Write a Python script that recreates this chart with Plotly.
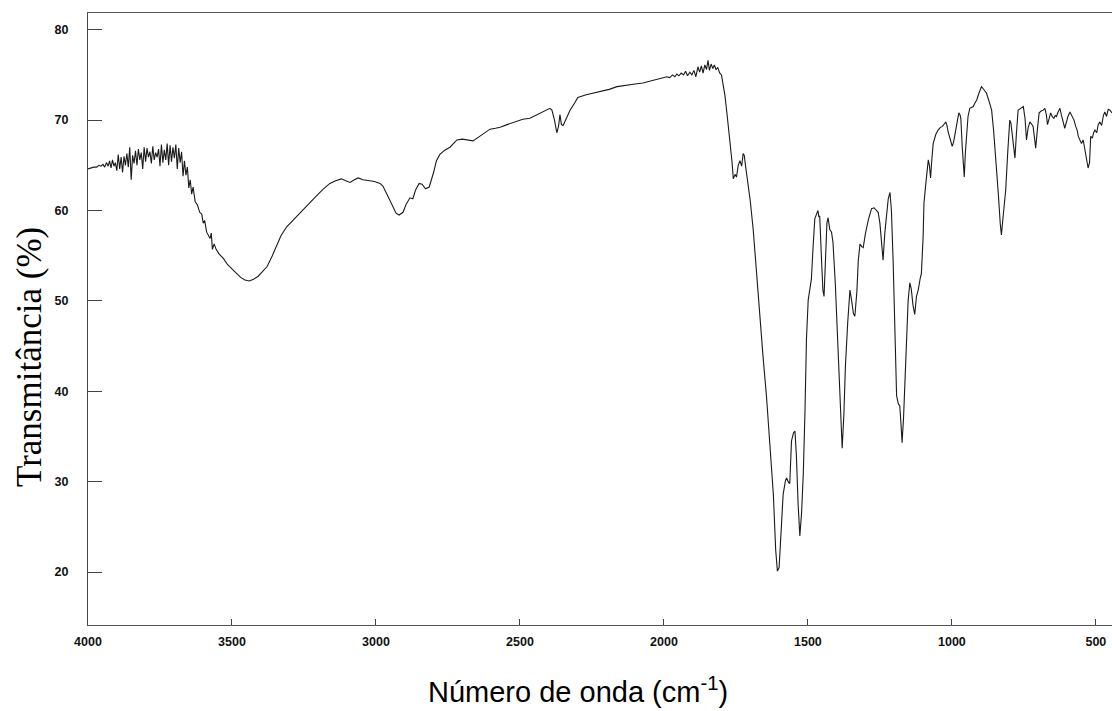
import plotly.graph_objects as go

# FTIR transmittance spectrum
wavenumber = [
    4000, 3990, 3980, 3970, 3962, 3955, 3948, 3942, 3936, 3930, 3925, 3920, 3915, 3910, 3905,
    3900, 3895, 3890, 3885, 3880, 3875, 3870, 3865, 3860, 3855, 3850, 3845, 3840, 3835, 3830,
    3825, 3820, 3815, 3810, 3805, 3800, 3795, 3790, 3785, 3780, 3775, 3770, 3765, 3760, 3755,
    3750, 3745, 3740, 3735, 3730, 3725, 3720, 3715, 3710, 3705, 3700, 3695, 3690, 3685, 3680,
    3675, 3670, 3665, 3660, 3655, 3650, 3645, 3640, 3635, 3628, 3620, 3612, 3605, 3600, 3595,
    3588, 3582, 3576, 3572, 3568, 3562, 3555, 3545, 3530, 3515, 3500, 3485, 3470, 3455, 3440,
    3425, 3410, 3395, 3378, 3360, 3345, 3330, 3310, 3288, 3260, 3235, 3210, 3185, 3160, 3140,
    3120, 3105, 3090, 3075, 3062, 3045, 3025, 3005, 2986, 2976, 2962, 2945, 2930, 2920, 2906,
    2895, 2882, 2872, 2862, 2850, 2840, 2828, 2815, 2800, 2790, 2778, 2760, 2743, 2730, 2719,
    2700, 2680, 2663, 2640, 2620, 2604, 2585, 2569, 2545, 2520, 2490, 2465, 2440, 2415, 2396,
    2389, 2380, 2372, 2366, 2361, 2356, 2350, 2340, 2326, 2310, 2299, 2270, 2240, 2212, 2190,
    2163, 2130, 2100, 2073, 2040, 2003, 1990, 1980, 1970, 1962, 1955, 1948, 1940, 1932, 1925,
    1918, 1910, 1903, 1896, 1889, 1882, 1876, 1870, 1864, 1858, 1852, 1847, 1842, 1836, 1830,
    1825, 1819, 1813, 1806, 1800, 1795, 1788, 1780, 1771, 1764, 1759, 1753, 1748, 1742, 1736,
    1730, 1725, 1721, 1716, 1711, 1707, 1700, 1690, 1680, 1667, 1655, 1644, 1632, 1620, 1612,
    1606, 1600, 1597, 1590, 1586, 1578, 1574, 1567, 1563, 1557, 1550, 1545, 1540, 1534, 1528,
    1522, 1516, 1510, 1505, 1499, 1493, 1488, 1482, 1476, 1470, 1465, 1462, 1459, 1454, 1448,
    1444, 1439, 1434, 1430, 1427, 1424, 1418, 1413, 1405, 1400, 1395, 1388, 1381, 1375, 1370,
    1362, 1354, 1348, 1342, 1337, 1330, 1325, 1319, 1313, 1308, 1300, 1290, 1279, 1270, 1262,
    1256, 1250, 1244, 1239, 1233, 1227, 1221, 1215, 1210, 1204, 1198, 1192, 1186, 1181, 1176,
    1173, 1168, 1163, 1158, 1152, 1146, 1141, 1135, 1129, 1123, 1117, 1110, 1106, 1100, 1097,
    1092, 1088, 1082, 1078, 1074, 1070, 1065, 1056, 1048, 1040, 1033, 1026, 1021, 1017, 1013,
    1005, 999, 994, 990, 983, 976, 972, 969, 964, 960, 957, 953, 949, 944, 938,
    932, 926, 920, 914, 906, 900, 897, 892, 886, 880, 872, 862, 855, 850, 845,
    838, 832, 828, 824, 819, 813, 806, 799, 795, 791, 786, 781, 776, 770, 761,
    752, 746, 741, 735, 729, 724, 718, 713, 709, 703, 697, 690, 683, 677, 672,
    668, 662, 657, 652, 646, 641, 637, 631, 625, 620, 614, 608, 603, 597, 590,
    583, 576, 570, 565, 561, 555, 550, 544, 538, 532, 527, 522, 518, 512, 508,
    503, 497, 492, 486, 480, 474, 469, 463, 457, 451, 444,
]

transmittance = [
    64.6, 64.7, 64.8, 64.8, 65.0, 64.9, 65.1, 64.8, 65.3, 64.9, 65.5, 64.7, 65.6, 64.9, 65.3,
    64.4, 66.2, 64.6, 65.9, 64.2, 66.0, 65.0, 66.3, 64.8, 67.0, 63.4, 66.1, 65.2, 66.6, 65.0,
    66.8, 65.6, 66.4, 64.6, 67.0, 65.4, 66.9, 65.9, 66.5, 65.2, 67.1, 65.6, 66.4, 65.9, 66.8,
    64.9, 67.3, 65.3, 66.7, 65.6, 67.4, 65.0, 67.2, 65.4, 67.0, 65.8, 67.3, 64.6, 66.9, 65.3,
    66.5, 63.8, 65.5, 63.9, 64.8, 62.5, 63.4, 61.8, 62.6, 61.0, 60.6, 59.8, 59.6, 58.6, 58.9,
    57.6, 57.3, 56.9, 57.5, 55.7, 56.3, 55.7, 55.2, 54.7, 54.0, 53.5, 53.0, 52.6, 52.3, 52.2,
    52.4, 52.7, 53.2, 53.8, 55.0, 56.2, 57.2, 58.2, 58.9, 59.8, 60.6, 61.5, 62.3, 63.0, 63.3,
    63.5, 63.3, 63.1, 63.4, 63.6, 63.4, 63.3, 63.2, 63.0, 62.7, 61.8, 60.6, 59.7, 59.5, 59.8,
    60.7, 61.4, 61.3, 62.3, 63.0, 62.9, 62.4, 62.6, 64.2, 65.5, 66.2, 66.7, 67.0, 67.5, 67.8,
    67.9, 67.8, 67.7, 68.2, 68.7, 69.0, 69.1, 69.2, 69.5, 69.8, 70.1, 70.2, 70.6, 71.0, 71.3,
    71.1, 70.0, 68.6, 69.3, 70.6, 69.5, 69.4, 70.2, 71.1, 71.9, 72.5, 72.8, 73.0, 73.2, 73.4,
    73.7, 73.9, 74.0, 74.1, 74.4, 74.7, 74.8, 74.7, 75.0, 74.8, 75.1, 74.9, 75.2, 75.0, 75.4,
    74.9, 75.3, 75.0, 75.5, 74.8, 75.9, 75.3, 76.0, 75.2, 76.1, 75.6, 76.6, 75.5, 76.2, 75.7,
    76.1, 75.6, 75.8, 75.2, 75.0, 74.0, 72.7, 70.4, 68.0, 65.5, 63.5, 64.0, 63.7, 65.0, 65.5,
    64.9, 66.3, 66.1, 64.8, 63.6, 62.5, 61.0, 57.9, 53.5, 47.7, 43.5, 39.5, 34.0, 28.6, 22.5,
    20.1, 20.5, 22.4, 26.5, 28.6, 30.1, 30.4, 29.9, 29.8, 34.5, 35.4, 35.6, 32.9, 27.5, 24.0,
    26.5, 30.9, 38.0, 45.8, 50.1, 51.5, 52.4, 56.0, 59.1, 59.6, 60.0, 59.3, 59.4, 55.5, 51.2,
    50.5, 54.5, 58.6, 59.2, 58.3, 57.9, 57.6, 56.5, 52.0, 48.0, 45.4, 39.0, 33.7, 37.5, 42.6,
    47.5, 51.2, 50.0, 48.6, 48.3, 51.0, 54.5, 56.3, 56.0, 55.9, 57.5, 59.0, 60.2, 60.3, 60.0,
    59.8, 58.6, 56.5, 54.5, 57.5, 59.8, 61.3, 62.0, 60.0, 54.3, 46.0, 39.5, 38.6, 38.4, 36.0,
    34.3, 37.0, 41.5, 45.4, 50.0, 52.0, 51.3, 49.5, 48.5, 50.5, 51.2, 52.5, 53.0, 57.0, 60.8,
    62.5, 64.1, 65.6, 65.0, 63.6, 65.5, 67.4, 68.4, 68.9, 69.2, 69.3, 69.6, 69.8, 69.4, 68.7,
    67.8, 67.1, 67.6, 68.3, 69.8, 70.8, 70.6, 70.2, 67.0, 64.0, 63.7, 66.5, 68.9, 70.4, 71.3,
    71.4, 71.5, 71.9, 72.2, 73.0, 73.6, 73.7, 73.5, 73.2, 73.0, 72.2, 71.1, 68.8, 66.8, 64.8,
    61.5, 58.5, 57.3, 58.7, 60.5, 62.3, 66.5, 70.0, 69.7, 68.5, 67.2, 65.8, 68.5, 71.1, 71.3,
    71.5, 70.2, 67.8, 69.2, 69.8, 69.6, 69.3, 68.0, 66.9, 69.0, 70.8, 71.0, 71.1, 71.3, 70.6,
    69.5, 70.2, 70.8, 70.4, 70.2, 70.5, 70.4, 70.9, 71.3, 70.6, 69.8, 69.1, 69.7, 70.4, 70.9,
    70.4, 70.0, 69.3, 68.9, 68.2, 67.8, 67.4, 67.8, 66.7, 66.0, 64.7, 65.3, 68.2, 68.0, 68.6,
    68.9, 68.6, 69.5, 69.8, 69.4, 70.5, 70.9, 70.4, 71.2, 71.1, 70.8,
]

x_ticks = [4000, 3500, 3000, 2500, 2000, 1500, 1000, 500]
y_ticks = [20, 30, 40, 50, 60, 70, 80]

fig = go.Figure()
fig.add_trace(go.Scatter(
    x=wavenumber, y=transmittance, mode="lines",
    line=dict(color="#1a1a1a", width=1.1),
    showlegend=False, hoverinfo="skip",
))

tick_font = dict(family="Liberation Sans, Arial, sans-serif", size=12.5, color="#111", weight="bold")

fig.update_layout(
    width=1112, height=711,
    margin=dict(l=88, r=0, t=13, b=86),
    paper_bgcolor="white", plot_bgcolor="white",
    xaxis=dict(
        range=[4000, 444], tickvals=x_ticks, ticktext=[str(v) for v in x_ticks],
        ticks="inside", ticklen=6, tickwidth=1, tickcolor="#444",
        showline=True, linecolor="#555", linewidth=1, mirror=True,
        showgrid=False, zeroline=False, tickfont=tick_font, ticklabelstandoff=5,
    ),
    yaxis=dict(
        range=[14.14, 81.85], tickvals=y_ticks, ticktext=[str(v) for v in y_ticks],
        ticks="inside", ticklen=14, tickwidth=1, tickcolor="#444",
        showline=True, linecolor="#444", linewidth=1,
        showgrid=False, zeroline=False, tickfont=tick_font, ticklabelstandoff=16,
    ),
    annotations=[
        dict(
            text="Número de onda (cm<sup>-1</sup>)", xref="paper", yref="paper",
            x=0.4785, y=-0.106, xanchor="center", yanchor="middle", showarrow=False,
            font=dict(family="Liberation Sans, Arial, sans-serif", size=29, color="#000"),
        ),
        dict(
            text="Transmitância (%)", xref="paper", yref="paper",
            x=-0.0566, y=0.438, xanchor="center", yanchor="middle", showarrow=False,
            textangle=-90,
            font=dict(family="Liberation Serif, Times New Roman, serif", size=35, color="#000"),
        ),
    ],
)

fig.write_html("out.html")
